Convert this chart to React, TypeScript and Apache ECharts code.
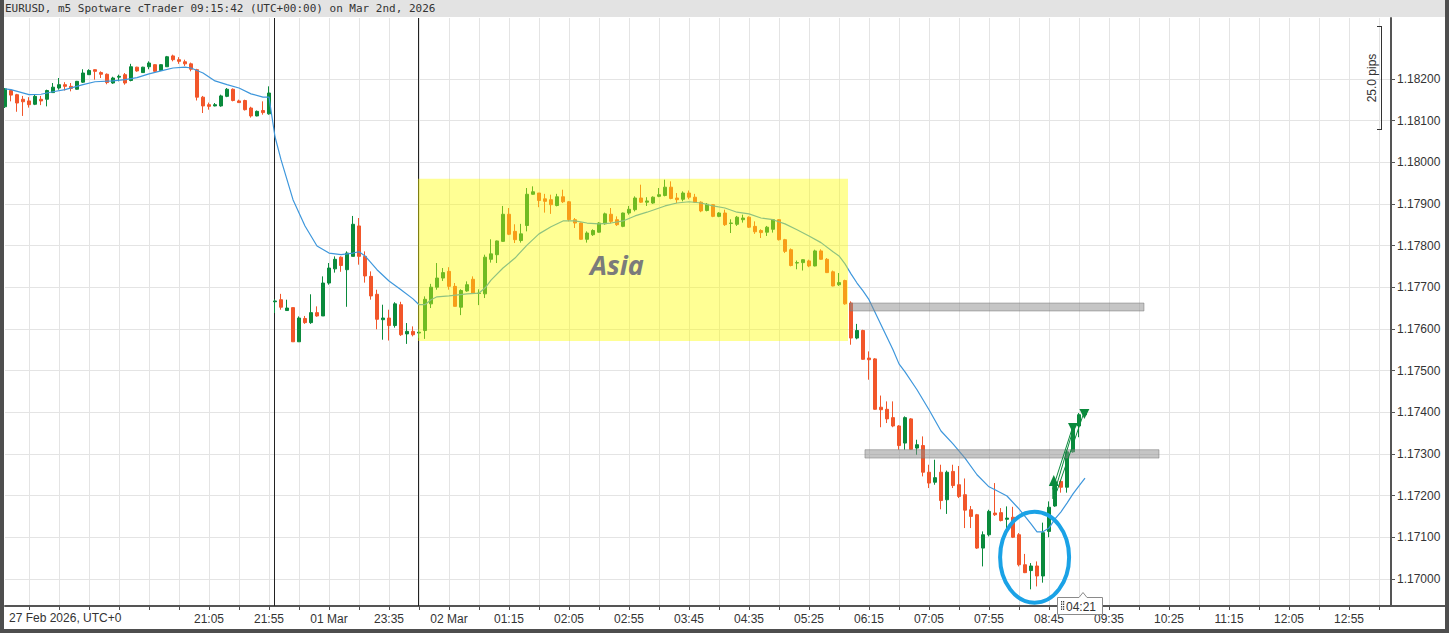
import React, { useEffect, useRef } from "react";
import * as echarts from "echarts";

const chartTitle = "EURUSD, m5 Spotware cTrader 09:15:42 (UTC+00:00) on Mar 2nd, 2026";
const axisCaption = "27 Feb 2026, UTC+0";
const rulerText = "25.0 pips";
const countdownText = "04:21";
const sessionLabel = "Asia";

// candles: [open, close, low, high]
const fridayCandles: number[][] = [
  [1.18133, 1.18176, 1.1813, 1.18178],
  [1.18172, 1.18161, 1.18146, 1.18174],
  [1.18162, 1.18142, 1.18121, 1.18164],
  [1.18151, 1.18145, 1.18111, 1.18159],
  [1.18147, 1.18138, 1.18131, 1.18156],
  [1.18139, 1.18158, 1.18137, 1.18162],
  [1.18151, 1.18147, 1.18137, 1.18159],
  [1.18151, 1.18172, 1.18134, 1.18174],
  [1.18167, 1.1818, 1.18166, 1.1819],
  [1.18178, 1.18186, 1.18174, 1.18202],
  [1.18186, 1.18182, 1.18172, 1.18192],
  [1.18182, 1.18177, 1.1817, 1.1819],
  [1.18175, 1.18194, 1.18174, 1.18195],
  [1.18192, 1.18214, 1.1819, 1.18223],
  [1.1821, 1.1822, 1.1821, 1.18223],
  [1.18222, 1.18218, 1.18198, 1.18223],
  [1.18215, 1.18211, 1.18202, 1.18218],
  [1.18211, 1.18191, 1.18187, 1.18213],
  [1.1819, 1.18202, 1.18188, 1.18205],
  [1.18204, 1.18206, 1.18194, 1.1821],
  [1.1821, 1.1819, 1.18186, 1.18214],
  [1.18196, 1.18229, 1.18194, 1.18236],
  [1.18228, 1.18219, 1.18217, 1.18229],
  [1.18215, 1.18228, 1.18214, 1.18229],
  [1.18229, 1.18238, 1.18223, 1.18242],
  [1.18234, 1.18218, 1.18217, 1.18235],
  [1.1822, 1.18234, 1.18219, 1.18235],
  [1.18229, 1.18253, 1.18229, 1.18255],
  [1.18255, 1.18246, 1.18242, 1.18258],
  [1.18246, 1.18242, 1.18236, 1.18252],
  [1.18241, 1.18236, 1.18231, 1.18246],
  [1.18236, 1.18223, 1.18218, 1.18239],
  [1.18222, 1.18156, 1.18148, 1.18224],
  [1.18156, 1.18135, 1.18118, 1.18159],
  [1.18138, 1.18134, 1.18126, 1.18143],
  [1.18135, 1.18138, 1.18134, 1.18142],
  [1.18135, 1.18159, 1.18133, 1.18162],
  [1.18158, 1.18175, 1.18156, 1.18178],
  [1.18175, 1.18148, 1.18146, 1.18177],
  [1.18147, 1.18143, 1.18143, 1.1815],
  [1.18148, 1.18126, 1.18124, 1.1815],
  [1.1813, 1.18111, 1.18107, 1.18133],
  [1.18111, 1.18122, 1.1811, 1.18124],
  [1.18124, 1.18119, 1.18114, 1.18146],
  [1.18116, 1.18166, 1.18114, 1.18182],
];

const sundayCandles: number[][] = [
  [1.17665, 1.17667, 1.17638, 1.17671],
  [1.1767, 1.17652, 1.17646, 1.17684],
  [1.17644, 1.1765, 1.17644, 1.1767],
  [1.17651, 1.17569, 1.17569, 1.17651],
  [1.17569, 1.17626, 1.17569, 1.1763],
  [1.17625, 1.17615, 1.17612, 1.17631],
  [1.17615, 1.17639, 1.17612, 1.17683],
  [1.17639, 1.17631, 1.17629, 1.17654],
  [1.17631, 1.1771, 1.17631, 1.17726],
  [1.1771, 1.17746, 1.17706, 1.17758],
  [1.17744, 1.17767, 1.17735, 1.17774],
  [1.17772, 1.17752, 1.17737, 1.17774],
  [1.17742, 1.17782, 1.17653, 1.17786],
  [1.17774, 1.17851, 1.17774, 1.17871],
  [1.17847, 1.17774, 1.17754, 1.17866],
  [1.17774, 1.17727, 1.17711, 1.17786],
  [1.17726, 1.17679, 1.1767, 1.17738],
  [1.17683, 1.17623, 1.17599, 1.17694],
  [1.17622, 1.17626, 1.17574, 1.17658],
  [1.17626, 1.17608, 1.17572, 1.17646],
  [1.17608, 1.1766, 1.17603, 1.17664],
  [1.17658, 1.17586, 1.17583, 1.17665],
  [1.17588, 1.17594, 1.17564, 1.17614],
  [1.17594, 1.17586, 1.17582, 1.17606],
];

const asiaCandles: number[][] = [
  [1.1759, 1.17592, 1.17578, 1.17598],
  [1.17596, 1.17671, 1.17576, 1.17678],
  [1.1766, 1.177, 1.1765, 1.17708],
  [1.177, 1.17722, 1.17694, 1.17758],
  [1.17722, 1.17735, 1.17715, 1.17746],
  [1.17738, 1.17702, 1.17694, 1.17748],
  [1.17702, 1.17654, 1.17654, 1.1771],
  [1.17652, 1.17692, 1.17633, 1.17695],
  [1.17691, 1.17706, 1.17689, 1.17714],
  [1.17719, 1.17686, 1.17684, 1.17726],
  [1.17685, 1.17686, 1.17657, 1.17695],
  [1.17684, 1.17772, 1.17674, 1.17778],
  [1.17767, 1.1778, 1.17759, 1.17815],
  [1.17778, 1.17811, 1.17758, 1.17812],
  [1.1781, 1.17875, 1.17809, 1.17895],
  [1.17875, 1.17827, 1.17825, 1.1789],
  [1.17834, 1.17814, 1.17806, 1.17851],
  [1.17812, 1.17828, 1.17807, 1.17852],
  [1.17848, 1.17923, 1.17834, 1.17938],
  [1.17923, 1.17929, 1.17922, 1.17942],
  [1.17926, 1.17908, 1.17892, 1.17926],
  [1.17912, 1.17906, 1.17879, 1.17924],
  [1.1791, 1.17898, 1.17876, 1.17922],
  [1.17896, 1.17917, 1.17894, 1.17924],
  [1.17917, 1.17905, 1.17902, 1.17934],
  [1.17905, 1.17862, 1.17858, 1.17907],
  [1.17862, 1.17854, 1.17842, 1.17866],
  [1.17854, 1.17815, 1.17814, 1.17855],
  [1.17815, 1.1783, 1.17807, 1.17834],
  [1.17826, 1.17836, 1.17823, 1.17839],
  [1.17832, 1.17854, 1.17831, 1.17856],
  [1.17852, 1.17876, 1.1785, 1.17879],
  [1.17875, 1.17858, 1.17854, 1.1789],
  [1.17862, 1.1785, 1.17847, 1.1787],
  [1.17846, 1.17878, 1.17844, 1.17879],
  [1.17878, 1.17887, 1.17874, 1.17895],
  [1.17886, 1.17914, 1.17882, 1.17918],
  [1.17914, 1.17904, 1.17902, 1.17946],
  [1.17904, 1.17907, 1.17895, 1.17916],
  [1.17902, 1.17916, 1.179, 1.17918],
  [1.17918, 1.17922, 1.17916, 1.17938],
  [1.1792, 1.1794, 1.17918, 1.17958],
  [1.1794, 1.17913, 1.17911, 1.17954],
  [1.17914, 1.1791, 1.17902, 1.17926],
  [1.17911, 1.17926, 1.17906, 1.1793],
  [1.17926, 1.17916, 1.17911, 1.17932],
  [1.17916, 1.17904, 1.17902, 1.17924],
  [1.17904, 1.17883, 1.1788, 1.17906],
  [1.17884, 1.17899, 1.17882, 1.17902],
  [1.17898, 1.1787, 1.17868, 1.17899],
  [1.1787, 1.17878, 1.17868, 1.1788],
  [1.17878, 1.1785, 1.17847, 1.17886],
  [1.17853, 1.17854, 1.1783, 1.17863],
  [1.17851, 1.17868, 1.17847, 1.17871],
  [1.17862, 1.17866, 1.17855, 1.17874],
  [1.17868, 1.17844, 1.17842, 1.1787],
  [1.17846, 1.17833, 1.17828, 1.17858],
  [1.17836, 1.17831, 1.17818, 1.17839],
  [1.17832, 1.17844, 1.17823, 1.17847],
  [1.17839, 1.17862, 1.17831, 1.17863],
  [1.17862, 1.17814, 1.17812, 1.17863],
  [1.17814, 1.17786, 1.17782, 1.17816],
  [1.1779, 1.17752, 1.1775, 1.17793],
  [1.17758, 1.17759, 1.17743, 1.17764],
  [1.17759, 1.17766, 1.1774, 1.17767],
  [1.17763, 1.17751, 1.17748, 1.17766],
  [1.17751, 1.17787, 1.1775, 1.1779],
  [1.17787, 1.17767, 1.17766, 1.17791],
  [1.17767, 1.17735, 1.17734, 1.1777],
  [1.17737, 1.17703, 1.17702, 1.1774],
  [1.17706, 1.17711, 1.17703, 1.17734],
  [1.17716, 1.1766, 1.17658, 1.17718],
];

const londonCandles: number[][] = [
  [1.17662, 1.17578, 1.17562, 1.17666],
  [1.17578, 1.17596, 1.17575, 1.17612],
  [1.17596, 1.17527, 1.17526, 1.17598],
  [1.1753, 1.17526, 1.17478, 1.17546],
  [1.17528, 1.17407, 1.17406, 1.1753],
  [1.17412, 1.17406, 1.17364, 1.1744],
  [1.17407, 1.17384, 1.17374, 1.17426],
  [1.17387, 1.17367, 1.17364, 1.17426],
  [1.17367, 1.1732, 1.1731, 1.17369],
  [1.17326, 1.17387, 1.1731, 1.1739],
  [1.17384, 1.17311, 1.1731, 1.17386],
  [1.17314, 1.17322, 1.17298, 1.17334],
  [1.1732, 1.17256, 1.17246, 1.17342],
  [1.17256, 1.1723, 1.17218, 1.17274],
  [1.17232, 1.17243, 1.17226, 1.17286],
  [1.17256, 1.17188, 1.17167, 1.17274],
  [1.1719, 1.17256, 1.17156, 1.1726],
  [1.17258, 1.17224, 1.17218, 1.17274],
  [1.17226, 1.17198, 1.17194, 1.17271],
  [1.17202, 1.17165, 1.17122, 1.17241],
  [1.17166, 1.1715, 1.17122, 1.17175],
  [1.17154, 1.17074, 1.17072, 1.17156],
  [1.17074, 1.17106, 1.1703, 1.17114],
  [1.17106, 1.17162, 1.17102, 1.17166],
  [1.17158, 1.17154, 1.17151, 1.1723],
  [1.17159, 1.1714, 1.17138, 1.1717],
  [1.17143, 1.17146, 1.1711, 1.17174],
  [1.17148, 1.171, 1.17098, 1.17173],
  [1.17106, 1.17034, 1.1703, 1.1711],
  [1.17034, 1.17015, 1.17014, 1.1706],
  [1.1702, 1.17031, 1.16975, 1.17038],
  [1.17031, 1.17007, 1.16982, 1.17042],
  [1.17007, 1.17111, 1.16991, 1.17135],
  [1.17114, 1.17172, 1.171, 1.17186],
  [1.17175, 1.1723, 1.17173, 1.17242],
  [1.17234, 1.1722, 1.17207, 1.17238],
  [1.1722, 1.17305, 1.17207, 1.1731],
  [1.17305, 1.17367, 1.17303, 1.17374],
  [1.17367, 1.17394, 1.1734, 1.17398],
  [1.17394, 1.17398, 1.1739, 1.17402],
];

// moving average readings: [slot, price]
const maLine: number[][] = [
  [0, 1.18176], [1, 1.18174], [4, 1.18162], [6, 1.18163], [8, 1.18169], [10, 1.18174],
  [13, 1.18186], [15, 1.18193], [18, 1.18195], [20, 1.18198], [22, 1.18203], [24, 1.18212],
  [26, 1.18219], [28, 1.18226], [30, 1.18228], [31, 1.18226], [33, 1.18214], [35, 1.18195],
  [37, 1.18186], [39, 1.18178], [41, 1.18164], [43, 1.18156], [44, 1.18156],
  [45, 1.18061], [46, 1.18006], [47, 1.17958], [48, 1.1791], [50, 1.17847], [52, 1.17799],
  [54, 1.17782], [56, 1.17778], [58, 1.17782], [59, 1.17785], [60, 1.17775], [62, 1.17742],
  [64, 1.17715], [66, 1.17694], [68, 1.17672], [69, 1.17658], [70, 1.17658], [71, 1.1767],
  [72, 1.17677], [74, 1.17679], [77, 1.17684], [79, 1.17686], [80, 1.17698], [81, 1.17717],
  [83, 1.17746], [85, 1.1777], [87, 1.17801], [89, 1.17828], [91, 1.17845], [93, 1.17859],
  [95, 1.17859], [97, 1.17854], [99, 1.17852], [101, 1.17854], [103, 1.17859], [105, 1.17871],
  [107, 1.1788], [110, 1.17895], [112, 1.17902], [114, 1.17905], [116, 1.17902], [118, 1.17895],
  [120, 1.1789], [122, 1.1788], [124, 1.17876], [126, 1.17866], [128, 1.17862], [130, 1.17852],
  [132, 1.17838], [134, 1.17823], [136, 1.17807], [138, 1.17785], [139, 1.17775], [140, 1.17756],
  [141, 1.17732], [142, 1.1771], [143, 1.17691], [144, 1.1767], [146, 1.1761], [148, 1.1755],
  [149, 1.17516], [150, 1.17497], [152, 1.17454], [154, 1.17406], [156, 1.17355], [158, 1.17324],
  [160, 1.1729], [162, 1.1725], [164, 1.17221], [165, 1.17214], [167, 1.17199], [169, 1.17168],
  [171, 1.17132], [172, 1.17113], [173, 1.17113], [174, 1.17122], [175, 1.17144], [176, 1.17161],
  [177, 1.17182], [178, 1.17204], [179, 1.17223], [180, 1.17242],
];

const yTickValues = [1.17, 1.171, 1.172, 1.173, 1.174, 1.175, 1.176, 1.177, 1.178, 1.179, 1.18, 1.181, 1.182];
const xTickLabels = ["21:05", "21:55", "01 Mar", "23:35", "02 Mar", "01:15", "02:05", "02:55", "03:45", "04:35",
  "05:25", "06:15", "07:05", "07:55", "08:45", "09:35", "10:25", "11:15", "12:05", "12:55"];
const FIRST_LABEL_SLOT = 34;
const LABEL_STEP = 10;
const GRID_STEP = 5;
const SLOT_COUNT = 232;

// drawings: [startSlot, endSlot, lowPrice, highPrice]
const asiaBox = [[68.83, 140.5, 1.17571, 1.1796]];
const zoneBands = [
  [140.83, 189.83, 1.17643, 1.17662],
  [143.33, 192.33, 1.1729, 1.1731],
];
const separators = [44.83, 68.75];
// ellipse: [centerSlot, centerPrice, radiusSlots, radiusPrice]
const ellipses = [[171.6, 1.17052, 5.75, 0.00109]];
// arrow lines: pairs of [slot, price]
const arrowLines = [
  [[174.6, 1.17215], [178.0, 1.17367]],
  [[175.0, 1.17212], [178.3, 1.17372]],
  [[175.3, 1.1721], [179.8, 1.17398]],
];
const arrowHeadsUp = [[174.8, 1.1724]];
const arrowHeadsDown = [[178.0, 1.17362], [179.9, 1.17396]];
const labelAnchor = [[97.5, 1.17754]];

const GREEN = "#0a8a3c";
const RED = "#f2562a";

const categories: string[] = [];
for (let i = 0; i < SLOT_COUNT; i++) {
  const minutes = i < 45 ? 18 * 60 + 15 + 5 * i : 22 * 60 + 5 * (i - 45);
  const m = minutes % 1440;
  categories.push(`${String(Math.floor(m / 60)).padStart(2, "0")}:${String(m % 60).padStart(2, "0")}`);
}

const xAt = (api: any, s: number) => {
  const a = api.coord([0, 1.175])[0];
  const b = api.coord([1, 1.175])[0];
  return a + s * (b - a);
};
const yAt = (api: any, p: number) => api.coord([0, p])[1];

function overlay(z: number, items: any[], draw: (item: any, api: any, params: any) => any) {
  return {
    type: "custom",
    z,
    silent: true,
    clip: false,
    data: items.map(() => [0, 1.175]),
    encode: { x: 0, y: 1 },
    renderItem: (params: any, api: any) => draw(items[params.dataIndex], api, params),
  };
}

function buildOption(): any {
  const candles = [...fridayCandles, ...sundayCandles, ...asiaCandles, ...londonCandles];
  const font = "Liberation Sans, Arial, sans-serif";
  return {
    animation: false,
    backgroundColor: "#ffffff",
    grid: { left: 5, right: 58, top: 18, bottom: 27, outerBoundsMode: "none", containLabel: false },
    xAxis: {
      type: "category",
      data: categories,
      boundaryGap: false,
      axisLine: { show: true, lineStyle: { color: "#555", width: 2 } },
      axisTick: { show: true, interval: (i: number) => i % GRID_STEP === 4, length: 4, lineStyle: { color: "#555" } },
      axisLabel: {
        interval: (i: number) => i >= FIRST_LABEL_SLOT && (i - FIRST_LABEL_SLOT) % LABEL_STEP === 0,
        formatter: (v: string, i: number) => xTickLabels[(i - FIRST_LABEL_SLOT) / LABEL_STEP] ?? v,
        color: "#333",
        fontSize: 12,
        fontFamily: font,
        margin: 7,
      },
      splitLine: { show: true, interval: (i: number) => i % GRID_STEP === 4, lineStyle: { color: "#e4e4e4", width: 1 } },
    },
    yAxis: {
      type: "value",
      position: "right",
      min: 1.16935,
      max: 1.18346,
      axisLine: { show: true, lineStyle: { color: "#555", width: 2 } },
      axisTick: { show: true, customValues: yTickValues, length: 4, lineStyle: { color: "#555" } },
      axisLabel: {
        customValues: yTickValues,
        formatter: (v: number) => v.toFixed(5),
        color: "#333",
        fontSize: 12,
        fontFamily: font,
        margin: 6,
      },
      splitLine: { show: true, lineStyle: { color: "#e4e4e4", width: 1 } },
    },
    series: [
      overlay(1, separators, (s, api, params) => {
        const x = Math.round(xAt(api, s)) + 0.5;
        return {
          type: "line",
          shape: { x1: x, y1: params.coordSys.y, x2: x, y2: params.coordSys.y + params.coordSys.height },
          style: { stroke: "#222", lineWidth: 1 },
        };
      }),
      {
        type: "candlestick",
        z: 2,
        barWidth: 3,
        data: candles,
        itemStyle: { color: GREEN, color0: RED, borderColor: GREEN, borderColor0: RED, borderWidth: 1 },
      },
      {
        type: "line",
        z: 3,
        data: maLine,
        showSymbol: false,
        symbol: "none",
        lineStyle: { color: "#3e97dc", width: 1.2 },
      },
      overlay(5, asiaBox, (b, api) => {
        const x1 = xAt(api, b[0]);
        const x2 = xAt(api, b[1]);
        const y1 = yAt(api, b[3]);
        const y2 = yAt(api, b[2]);
        return { type: "rect", shape: { x: x1, y: y1, width: x2 - x1, height: y2 - y1 }, style: { fill: "rgba(255,255,0,0.42)" } };
      }),
      overlay(6, zoneBands, (b, api) => {
        const x1 = xAt(api, b[0]);
        const x2 = xAt(api, b[1]);
        const y1 = yAt(api, b[3]);
        const y2 = yAt(api, b[2]);
        return {
          type: "rect",
          shape: { x: x1, y: y1, width: x2 - x1, height: y2 - y1 },
          style: { fill: "rgba(140,140,140,0.5)", stroke: "rgba(120,120,120,0.5)", lineWidth: 1 },
        };
      }),
      overlay(7, labelAnchor, (a, api) => ({
        type: "text",
        x: xAt(api, a[0]),
        y: yAt(api, a[1]),
        style: {
          text: sessionLabel,
          fill: "#7b7b7b",
          fontSize: 27,
          fontWeight: "bold",
          fontStyle: "italic",
          fontFamily: '"Open Sans", sans-serif',
          align: "left",
          verticalAlign: "middle",
          textAlign: "left",
          textVerticalAlign: "middle",
        },
      })),
      overlay(8, arrowLines, (l, api) => ({
        type: "polyline",
        shape: { points: l.map((p: number[]) => [xAt(api, p[0]), yAt(api, p[1])]) },
        style: { stroke: GREEN, lineWidth: 1, fill: "none" },
      })),
      overlay(8, arrowHeadsUp, (h, api) => {
        const x = xAt(api, h[0]);
        const y = yAt(api, h[1]);
        return {
          type: "group",
          children: [
            { type: "rect", shape: { x: x - 1.5, y: y + 6, width: 3, height: 14 }, style: { fill: GREEN } },
            { type: "polygon", shape: { points: [[x, y - 4], [x - 5, y + 7], [x + 5, y + 7]] }, style: { fill: GREEN } },
          ],
        };
      }),
      overlay(8, arrowHeadsDown, (h, api) => {
        const x = xAt(api, h[0]);
        const y = yAt(api, h[1]);
        return {
          type: "polygon",
          shape: { points: [[x - 5, y - 5], [x + 5, y - 5], [x, y + 5]] },
          style: { fill: GREEN },
        };
      }),
      overlay(9, ellipses, (e, api) => {
        const cx = xAt(api, e[0]);
        const cy = yAt(api, e[1]);
        const rx = xAt(api, e[0] + e[2]) - cx;
        const ry = yAt(api, e[1] - e[3]) - cy;
        return {
          type: "ellipse",
          shape: { cx, cy, rx, ry },
          style: { fill: "none", stroke: "#1aa2e6", lineWidth: 4 },
        };
      }),
    ],
    graphic: [
      // frame
      { type: "rect", z: 100, shape: { x: 0, y: 0, width: 1449, height: 17 }, style: { fill: "#e3e3e3" } },
      { type: "rect", z: 101, shape: { x: 0, y: 0, width: 4, height: 633 }, style: { fill: "#4e4e4e" } },
      { type: "rect", z: 101, shape: { x: 1445, y: 0, width: 4, height: 633 }, style: { fill: "#4e4e4e" } },
      { type: "rect", z: 101, shape: { x: 0, y: 629, width: 1449, height: 4 }, style: { fill: "#4e4e4e" } },
      {
        type: "text",
        z: 102,
        style: {
          text: chartTitle,
          x: 5,
          y: 8.5,
          fill: "#333",
          font: '11px "DejaVu Sans Mono", monospace',
          textAlign: "left",
          textVerticalAlign: "middle",
          align: "left",
          verticalAlign: "middle",
        },
      },
      { type: "line", z: 50, shape: { x1: 1391, y1: 606, x2: 1445, y2: 606 }, style: { stroke: "#555", lineWidth: 2 } },
      {
        type: "text",
        z: 50,
        style: {
          text: axisCaption,
          x: 9,
          y: 618,
          fill: "#333",
          font: "12px Liberation Sans, Arial, sans-serif",
          textAlign: "left",
          textVerticalAlign: "middle",
          align: "left",
          verticalAlign: "middle",
        },
      },
      // pips ruler
      { type: "line", z: 50, shape: { x1: 1381.5, y1: 26, x2: 1381.5, y2: 129 }, style: { stroke: "#333", lineWidth: 1 } },
      { type: "line", z: 50, shape: { x1: 1377, y1: 26.5, x2: 1382, y2: 26.5 }, style: { stroke: "#333", lineWidth: 1 } },
      { type: "line", z: 50, shape: { x1: 1377, y1: 129.5, x2: 1382, y2: 129.5 }, style: { stroke: "#333", lineWidth: 1 } },
      {
        type: "text",
        z: 50,
        x: 1372,
        y: 78,
        rotation: Math.PI / 2,
        style: {
          text: rulerText,
          x: 0,
          y: 0,
          fill: "#333",
          font: "12px Liberation Sans, Arial, sans-serif",
          textAlign: "center",
          textVerticalAlign: "middle",
          align: "center",
          verticalAlign: "middle",
        },
      },
      // countdown label
      {
        type: "polygon",
        z: 60,
        shape: { points: [[1057.5, 597.5], [1079, 597.5], [1083, 592.5], [1087, 597.5], [1102.5, 597.5], [1102.5, 614.5], [1057.5, 614.5]] },
        style: { fill: "#fff", stroke: "#8a8a8a", lineWidth: 1 },
      },
      ...[0, 1, 2, 3].flatMap((r) => [0, 1].map((c) => ({
        type: "rect",
        z: 61,
        shape: { x: 1061 + c * 2, y: 601 + r * 2.5, width: 1.2, height: 1.4 },
        style: { fill: "#444" },
      }))),
      {
        type: "text",
        z: 61,
        style: {
          text: countdownText,
          x: 1066,
          y: 606.5,
          fill: "#333",
          font: "12px Liberation Sans, Arial, sans-serif",
          textAlign: "left",
          textVerticalAlign: "middle",
          align: "left",
          verticalAlign: "middle",
        },
      },
    ],
  };
}

export default function App() {
  const ref = useRef<HTMLDivElement>(null);
  useEffect(() => {
    if (!ref.current) return;
    const chart = echarts.init(ref.current, null, { renderer: "svg" });
    chart.setOption(buildOption());
    return () => chart.dispose();
  }, []);
  return (
    <div
      ref={ref}
      style={{ position: "fixed", left: 0, top: 0, width: 1449, height: 633, background: "#fff" }}
    />
  );
}
